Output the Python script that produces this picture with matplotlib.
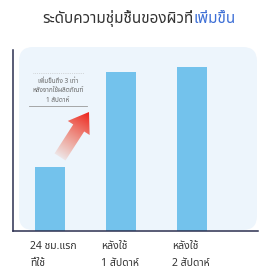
import matplotlib
matplotlib.use("Agg")
import matplotlib.pyplot as plt
import numpy as np
from matplotlib.patches import FancyBboxPatch, Polygon
from matplotlib.transforms import ScaledTranslation

plt.rcParams['font.family'] = ['Noto Sans Thai', 'DejaVu Sans']

# ---- data ----
categories = ["24 ชม.แรก\nที่ใช้", "หลังใช้\n1 สัปดาห์", "หลังใช้\n2 สัปดาห์"]
moisture = [64, 159, 164]          # relative skin moisture level
title_main = "ระดับความชุ่มชื้นของผิวที่"
title_accent = "เพิ่มขึ้น"
note_text = "เพิ่มขึ้นถึง 3 เท่า\nหลังจากใช้ผลิตภัณฑ์\n1 สัปดาห์"

W, H = 278, 270
fig = plt.figure(figsize=(W / 100, H / 100), dpi=100)
fig.patch.set_facecolor("white")

# decoration layer in figure pixel coordinates (y down)
deco = fig.add_axes([0, 0, 1, 1], zorder=0)
deco.set_xlim(0, W)
deco.set_ylim(H, 0)
deco.axis("off")

panel = FancyBboxPatch((19, 47), 238, 183, boxstyle="round,pad=0,rounding_size=14",
                       facecolor="#edf5fc", edgecolor="none", zorder=0.5)
deco.add_patch(panel)

# gradient arrow
T = np.array([60.0, 157.0])
P = np.array([89.0, 112.0])
d = P - T
L = np.linalg.norm(d)
u = d / L
n = np.array([-u[1], u[0]])
hw, Hw, hl = 6.5, 13.0, 19.0
B = P - hl * u
pts = [T + hw * n, B + hw * n, B + Hw * n, P, B - Hw * n, B - hw * n, T - hw * n]
poly = Polygon(pts, closed=True, facecolor="none", edgecolor="none")
deco.add_patch(poly)
xs = np.linspace(40, 110, 140)
ys = np.linspace(100, 170, 140)
X, Y = np.meshgrid(xs, ys)
proj = ((X - T[0]) * u[0] + (Y - T[1]) * u[1]) / L
proj = np.clip(proj, 0, 1)
img = np.zeros(X.shape + (4,))
img[..., 0] = 0.93
img[..., 1] = 0.13 + 0.35 * (1 - proj)
img[..., 2] = 0.10 + 0.25 * (1 - proj)
img[..., 3] = 0.12 + 0.88 * proj ** 0.8
im = deco.imshow(img, extent=(40, 110, 170, 100), origin="upper",
                 interpolation="bilinear", zorder=3, aspect="auto")
im.set_clip_path(poly)
deco.set_xlim(0, W)
deco.set_ylim(H, 0)

# note text and rules
deco.text(58, 91, note_text, ha="center", va="center", fontsize=4.6, color="#666666",
          linespacing=1.45, zorder=3)
deco.plot([33, 84], [73, 73], color="#bbbbbb", lw=0.5, ls=":", zorder=3)
deco.plot([29, 87], [106, 106], color="#999999", lw=0.6, zorder=3)

# main chart axes
ax = fig.add_axes([13 / W, 1 - 231 / H, (258 - 13) / W, (231 - 50) / H], zorder=1)
ax.patch.set_alpha(0)
x = np.arange(len(categories))
ax.bar(x, moisture, width=0.42, color="#73c2ec", edgecolor="none")
ax.set_xlim(-37 / 71, 2 + 66 / 71)
ax.set_ylim(0, 181)
ax.set_yticks([])
ax.set_xticks(x)
ax.set_xticklabels(categories, fontsize=7.5, color="#333333", linespacing=1.75)
ax.tick_params(axis="x", length=0, pad=7)
off = ScaledTranslation(-20 / 100, 0, fig.dpi_scale_trans)
for lab in ax.get_xticklabels():
    lab.set_horizontalalignment("left")
    lab.set_transform(lab.get_transform() + off)
for s in ["top", "right"]:
    ax.spines[s].set_visible(False)
for s in ["left", "bottom"]:
    ax.spines[s].set_color("#2b2f4f")
    ax.spines[s].set_linewidth(1.1)

# title with accent colour
t1 = fig.text(42 / W, 1 - 27 / H, title_main, fontsize=11, color="#333333",
              ha="left", va="bottom")
deco.annotate(title_accent, xy=(1, 0), xycoords=t1, ha="left", va="bottom",
              fontsize=11, color="#3d6fd6")

fig.savefig("out.png", dpi=100)
